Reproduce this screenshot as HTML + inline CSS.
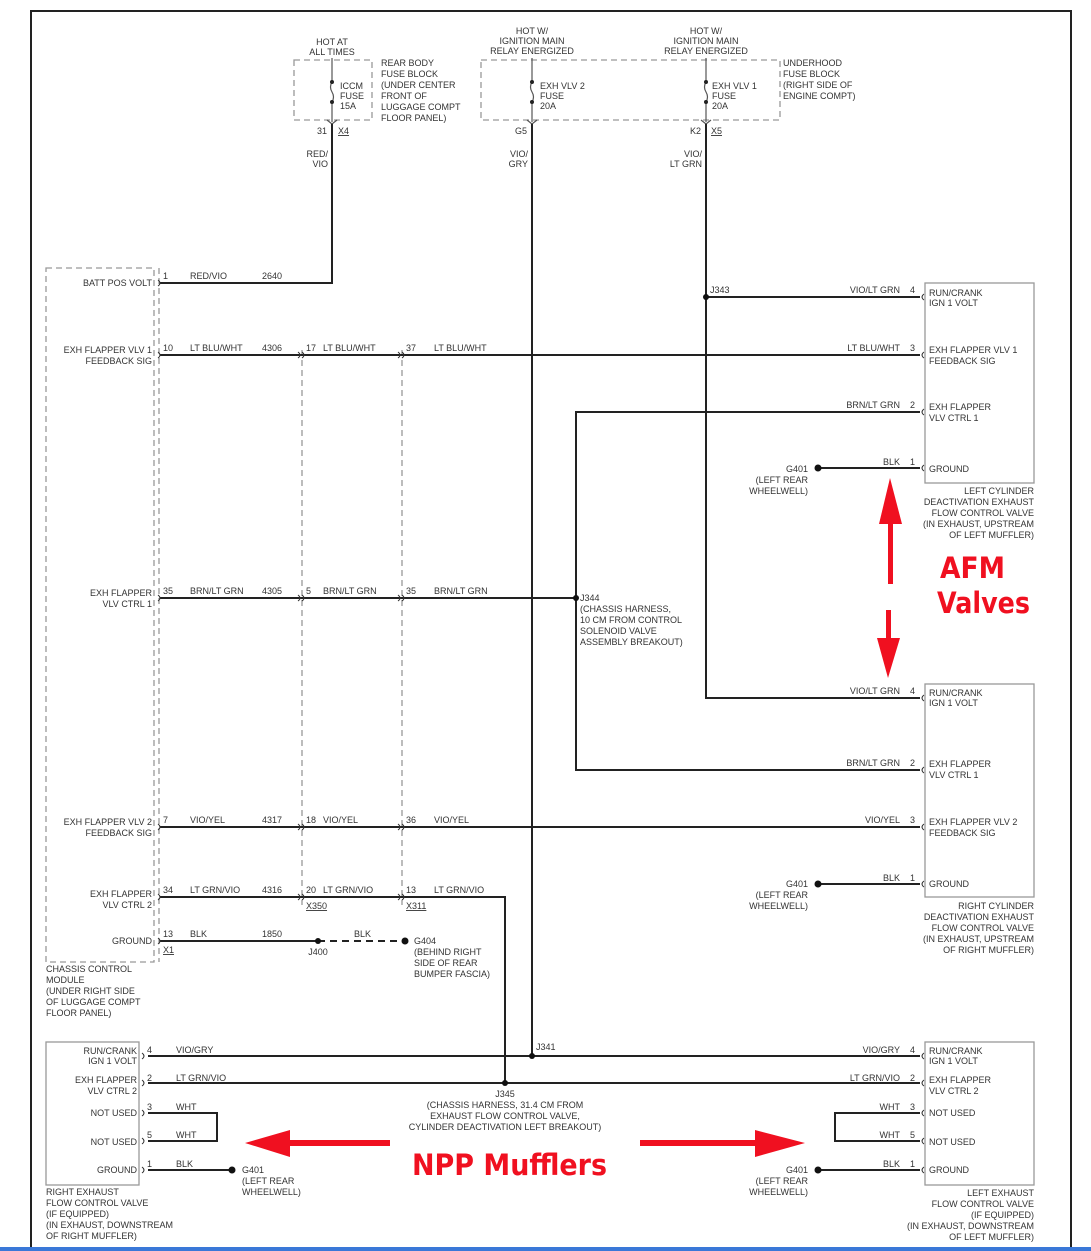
<!DOCTYPE html>
<html><head><meta charset="utf-8"><style>
html,body{margin:0;padding:0;background:#fff;}
svg{display:block;}
text{font-family:"Liberation Sans",sans-serif;font-size:9px;fill:#333;}
.r{text-anchor:end;}
.m{text-anchor:middle;}
.w{stroke:#222;stroke-width:2;fill:none;}
.d{stroke:#999;stroke-width:1.3;fill:none;stroke-dasharray:6,4;}
.b{stroke:#999;stroke-width:1.3;fill:#fff;}
.big{font-family:"DejaVu Sans",sans-serif;font-size:29px;font-weight:bold;fill:#f01020;font-style:normal;}
</style></head><body>
<svg width="1091" height="1251" viewBox="0 0 1091 1251" xmlns="http://www.w3.org/2000/svg">
<rect x="31" y="11" width="1040" height="1240" fill="none" stroke="#222" stroke-width="2"/>
<rect x="0" y="1247" width="1091" height="4" fill="#3a78d8"/>

<rect x="294" y="60" width="78" height="60" class="d"/>
<rect x="481" y="60" width="299" height="60" class="d"/>
<text x="332" y="45" class="m">HOT AT</text><text x="332" y="55" class="m">ALL TIMES</text>
<text x="532" y="34" class="m">HOT W/</text><text x="532" y="44" class="m">IGNITION MAIN</text><text x="532" y="54" class="m">RELAY ENERGIZED</text>
<text x="706" y="34" class="m">HOT W/</text><text x="706" y="44" class="m">IGNITION MAIN</text><text x="706" y="54" class="m">RELAY ENERGIZED</text>
<text x="381" y="66">REAR BODY</text><text x="381" y="77">FUSE BLOCK</text><text x="381" y="88">(UNDER CENTER</text><text x="381" y="99">FRONT OF</text><text x="381" y="110">LUGGAGE COMPT</text><text x="381" y="121">FLOOR PANEL)</text>
<text x="783" y="66">UNDERHOOD</text><text x="783" y="77">FUSE BLOCK</text><text x="783" y="88">(RIGHT SIDE OF</text><text x="783" y="99">ENGINE COMPT)</text>
<g stroke="#555" stroke-width="1.2" fill="none">
<line x1="332" y1="58" x2="332" y2="82"/><line x1="332" y1="102" x2="332" y2="122"/><path d="M332 82 q-3 5 0 10 q3 5 0 10"/>
<line x1="532" y1="58" x2="532" y2="82"/><line x1="532" y1="102" x2="532" y2="122"/><path d="M532 82 q-3 5 0 10 q3 5 0 10"/>
<line x1="706" y1="58" x2="706" y2="82"/><line x1="706" y1="102" x2="706" y2="122"/><path d="M706 82 q-3 5 0 10 q3 5 0 10"/>
<path d="M327 120 l5 4 l5 -4 M527 120 l5 4 l5 -4 M701 120 l5 4 l5 -4"/>
</g>
<g fill="#222"><circle cx="332" cy="82" r="2"/><circle cx="332" cy="102" r="2"/><circle cx="532" cy="82" r="2"/><circle cx="532" cy="102" r="2"/><circle cx="706" cy="82" r="2"/><circle cx="706" cy="102" r="2"/></g>
<text x="340" y="89">ICCM</text><text x="340" y="99">FUSE</text><text x="340" y="109">15A</text>
<text x="540" y="89">EXH VLV 2</text><text x="540" y="99">FUSE</text><text x="540" y="109">20A</text>
<text x="712" y="89">EXH VLV 1</text><text x="712" y="99">FUSE</text><text x="712" y="109">20A</text>
<text x="327" y="134" class="r">31</text><text x="338" y="134" text-decoration="underline">X4</text>
<text x="527" y="134" class="r">G5</text>
<text x="701" y="134" class="r">K2</text><text x="711" y="134" text-decoration="underline">X5</text>
<text x="328" y="157" class="r">RED/</text><text x="328" y="167" class="r">VIO</text>
<text x="528" y="157" class="r">VIO/</text><text x="528" y="167" class="r">GRY</text>
<text x="702" y="157" class="r">VIO/</text><text x="702" y="167" class="r">LT GRN</text>

<rect x="46" y="268" width="108" height="694" class="d"/>
<line x1="159" y1="268" x2="159" y2="962" class="d"/>
<line x1="302" y1="350" x2="302" y2="905" class="d"/>
<line x1="402" y1="350" x2="402" y2="905" class="d"/>
<text x="152" y="286" class="r">BATT POS VOLT</text>
<text x="152" y="353" class="r">EXH FLAPPER VLV 1</text><text x="152" y="364" class="r">FEEDBACK SIG</text>
<text x="152" y="596" class="r">EXH FLAPPER</text><text x="152" y="607" class="r">VLV CTRL 1</text>
<text x="152" y="825" class="r">EXH FLAPPER VLV 2</text><text x="152" y="836" class="r">FEEDBACK SIG</text>
<text x="152" y="897" class="r">EXH FLAPPER</text><text x="152" y="908" class="r">VLV CTRL 2</text>
<text x="152" y="944" class="r">GROUND</text>
<text x="46" y="972">CHASSIS CONTROL</text><text x="46" y="983">MODULE</text><text x="46" y="994">(UNDER RIGHT SIDE</text><text x="46" y="1005">OF LUGGAGE COMPT</text><text x="46" y="1016">FLOOR PANEL)</text>

<path class="w" d="M332 124 V283 H160"/>
<path class="w" d="M532 124 V1056"/>
<path class="w" d="M706 124 V698 H920"/>
<path class="w" d="M706 297 H920"/>
<path class="w" d="M160 355 H920"/>
<path class="w" d="M920 412 H576 V770 H920"/>
<path class="w" d="M160 598 H576"/>
<path class="w" d="M820 468 H920"/>
<path class="w" d="M160 827 H920"/>
<path class="w" d="M820 884 H920"/>
<path class="w" d="M160 897 H505 V1083"/>
<path class="w" d="M160 941 H318"/>
<path d="M318 941 H405" stroke="#222" stroke-width="2" stroke-dasharray="7,5"/>
<path class="w" d="M148 1056 H920"/>
<path class="w" d="M148 1083 H920"/>
<path class="w" d="M148 1113 H217 V1141 H148"/>
<path class="w" d="M920 1113 H835 V1141 H920"/>
<path class="w" d="M148 1170 H232"/>
<path class="w" d="M820 1170 H920"/>
<g fill="#111">
<circle cx="706" cy="297" r="3"/><circle cx="576" cy="598" r="3"/><circle cx="318" cy="941" r="3"/>
<circle cx="405" cy="941" r="3.5"/><circle cx="818" cy="468" r="3.5"/><circle cx="818" cy="884" r="3.5"/>
<circle cx="532" cy="1056" r="3"/><circle cx="505" cy="1083" r="3"/><circle cx="232" cy="1170" r="3.5"/><circle cx="818" cy="1170" r="3.5"/>
</g>
<g stroke="#333" stroke-width="1" fill="none">
<path d="M158 280 q4 3 0 6 M158 352 q4 3 0 6 M158 595 q4 3 0 6 M158 824 q4 3 0 6 M158 894 q4 3 0 6 M158 938 q4 3 0 6"/>
<path d="M298 352 q4 3 0 6 M302 352 q4 3 0 6 M398 352 q4 3 0 6 M402 352 q4 3 0 6"/>
<path d="M298 595 q4 3 0 6 M302 595 q4 3 0 6 M398 595 q4 3 0 6 M402 595 q4 3 0 6"/>
<path d="M298 824 q4 3 0 6 M302 824 q4 3 0 6 M398 824 q4 3 0 6 M402 824 q4 3 0 6"/>
<path d="M298 894 q4 3 0 6 M302 894 q4 3 0 6 M398 894 q4 3 0 6 M402 894 q4 3 0 6"/>
<path d="M924 294 q-4 3 0 6 M924 352 q-4 3 0 6 M924 409 q-4 3 0 6 M924 465 q-4 3 0 6 M924 695 q-4 3 0 6 M924 767 q-4 3 0 6 M924 824 q-4 3 0 6 M924 881 q-4 3 0 6"/>
<path d="M924 1053 q-4 3 0 6 M924 1080 q-4 3 0 6 M924 1110 q-4 3 0 6 M924 1138 q-4 3 0 6 M924 1167 q-4 3 0 6"/>
<path d="M142 1053 q4 3 0 6 M142 1080 q4 3 0 6 M142 1110 q4 3 0 6 M142 1138 q4 3 0 6 M142 1167 q4 3 0 6"/>
</g>

<text x="163" y="279">1</text><text x="190" y="279">RED/VIO</text><text x="262" y="279">2640</text>
<text x="163" y="351">10</text><text x="190" y="351">LT BLU/WHT</text><text x="262" y="351">4306</text>
<text x="306" y="351">17</text><text x="323" y="351">LT BLU/WHT</text><text x="406" y="351">37</text><text x="434" y="351">LT BLU/WHT</text>
<text x="163" y="594">35</text><text x="190" y="594">BRN/LT GRN</text><text x="262" y="594">4305</text>
<text x="306" y="594">5</text><text x="323" y="594">BRN/LT GRN</text><text x="406" y="594">35</text><text x="434" y="594">BRN/LT GRN</text>
<text x="163" y="823">7</text><text x="190" y="823">VIO/YEL</text><text x="262" y="823">4317</text>
<text x="306" y="823">18</text><text x="323" y="823">VIO/YEL</text><text x="406" y="823">36</text><text x="434" y="823">VIO/YEL</text>
<text x="163" y="893">34</text><text x="190" y="893">LT GRN/VIO</text><text x="262" y="893">4316</text>
<text x="306" y="893">20</text><text x="323" y="893">LT GRN/VIO</text><text x="406" y="893">13</text><text x="434" y="893">LT GRN/VIO</text>
<text x="306" y="909" text-decoration="underline">X350</text><text x="406" y="909" text-decoration="underline">X311</text>
<text x="163" y="937">13</text><text x="190" y="937">BLK</text><text x="262" y="937">1850</text><text x="354" y="937">BLK</text>
<text x="163" y="953" text-decoration="underline">X1</text><text x="318" y="955" class="m">J400</text>
<text x="414" y="944">G404</text><text x="414" y="955">(BEHIND RIGHT</text><text x="414" y="966">SIDE OF REAR</text><text x="414" y="977">BUMPER FASCIA)</text>
<text x="710" y="293">J343</text>
<text x="580" y="601">J344</text><text x="580" y="612">(CHASSIS HARNESS,</text><text x="580" y="623">10 CM FROM CONTROL</text><text x="580" y="634">SOLENOID VALVE</text><text x="580" y="645">ASSEMBLY BREAKOUT)</text>

<rect x="925" y="283" width="109" height="200" class="b"/>
<text x="900" y="293" class="r">VIO/LT GRN</text><text x="915" y="293" class="r">4</text>
<text x="900" y="351" class="r">LT BLU/WHT</text><text x="915" y="351" class="r">3</text>
<text x="900" y="408" class="r">BRN/LT GRN</text><text x="915" y="408" class="r">2</text>
<text x="900" y="465" class="r">BLK</text><text x="915" y="465" class="r">1</text>
<text x="929" y="296">RUN/CRANK</text><text x="929" y="306">IGN 1 VOLT</text>
<text x="929" y="353">EXH FLAPPER VLV 1</text><text x="929" y="364">FEEDBACK SIG</text>
<text x="929" y="410">EXH FLAPPER</text><text x="929" y="421">VLV CTRL 1</text>
<text x="929" y="472">GROUND</text>
<text x="808" y="472" class="r">G401</text><text x="808" y="483" class="r">(LEFT REAR</text><text x="808" y="494" class="r">WHEELWELL)</text>
<text x="1034" y="494" class="r">LEFT CYLINDER</text><text x="1034" y="505" class="r">DEACTIVATION EXHAUST</text><text x="1034" y="516" class="r">FLOW CONTROL VALVE</text><text x="1034" y="527" class="r">(IN EXHAUST, UPSTREAM</text><text x="1034" y="538" class="r">OF LEFT MUFFLER)</text>

<rect x="925" y="684" width="109" height="213" class="b"/>
<text x="900" y="694" class="r">VIO/LT GRN</text><text x="915" y="694" class="r">4</text>
<text x="900" y="766" class="r">BRN/LT GRN</text><text x="915" y="766" class="r">2</text>
<text x="900" y="823" class="r">VIO/YEL</text><text x="915" y="823" class="r">3</text>
<text x="900" y="881" class="r">BLK</text><text x="915" y="881" class="r">1</text>
<text x="929" y="696">RUN/CRANK</text><text x="929" y="706">IGN 1 VOLT</text>
<text x="929" y="767">EXH FLAPPER</text><text x="929" y="778">VLV CTRL 1</text>
<text x="929" y="825">EXH FLAPPER VLV 2</text><text x="929" y="836">FEEDBACK SIG</text>
<text x="929" y="887">GROUND</text>
<text x="808" y="887" class="r">G401</text><text x="808" y="898" class="r">(LEFT REAR</text><text x="808" y="909" class="r">WHEELWELL)</text>
<text x="1034" y="909" class="r">RIGHT CYLINDER</text><text x="1034" y="920" class="r">DEACTIVATION EXHAUST</text><text x="1034" y="931" class="r">FLOW CONTROL VALVE</text><text x="1034" y="942" class="r">(IN EXHAUST, UPSTREAM</text><text x="1034" y="953" class="r">OF RIGHT MUFFLER)</text>

<rect x="46" y="1042" width="93" height="143" class="b"/>
<text x="137" y="1054" class="r">RUN/CRANK</text><text x="137" y="1064" class="r">IGN 1 VOLT</text>
<text x="137" y="1083" class="r">EXH FLAPPER</text><text x="137" y="1094" class="r">VLV CTRL 2</text>
<text x="137" y="1116" class="r">NOT USED</text><text x="137" y="1145" class="r">NOT USED</text><text x="137" y="1173" class="r">GROUND</text>
<text x="147" y="1053">4</text><text x="176" y="1053">VIO/GRY</text>
<text x="147" y="1081">2</text><text x="176" y="1081">LT GRN/VIO</text>
<text x="147" y="1110">3</text><text x="176" y="1110">WHT</text>
<text x="147" y="1138">5</text><text x="176" y="1138">WHT</text>
<text x="147" y="1167">1</text><text x="176" y="1167">BLK</text>
<text x="242" y="1173">G401</text><text x="242" y="1184">(LEFT REAR</text><text x="242" y="1195">WHEELWELL)</text>
<text x="46" y="1195">RIGHT EXHAUST</text><text x="46" y="1206">FLOW CONTROL VALVE</text><text x="46" y="1217">(IF EQUIPPED)</text><text x="46" y="1228">(IN EXHAUST, DOWNSTREAM</text><text x="46" y="1239">OF RIGHT MUFFLER)</text>
<text x="536" y="1050">J341</text>
<text x="505" y="1097" class="m">J345</text><text x="505" y="1108" class="m">(CHASSIS HARNESS, 31.4 CM FROM</text><text x="505" y="1119" class="m">EXHAUST FLOW CONTROL VALVE,</text><text x="505" y="1130" class="m">CYLINDER DEACTIVATION LEFT BREAKOUT)</text>

<rect x="925" y="1042" width="109" height="143" class="b"/>
<text x="900" y="1053" class="r">VIO/GRY</text><text x="915" y="1053" class="r">4</text>
<text x="900" y="1081" class="r">LT GRN/VIO</text><text x="915" y="1081" class="r">2</text>
<text x="900" y="1110" class="r">WHT</text><text x="915" y="1110" class="r">3</text>
<text x="900" y="1138" class="r">WHT</text><text x="915" y="1138" class="r">5</text>
<text x="900" y="1167" class="r">BLK</text><text x="915" y="1167" class="r">1</text>
<text x="929" y="1054">RUN/CRANK</text><text x="929" y="1064">IGN 1 VOLT</text>
<text x="929" y="1083">EXH FLAPPER</text><text x="929" y="1094">VLV CTRL 2</text>
<text x="929" y="1116">NOT USED</text><text x="929" y="1145">NOT USED</text><text x="929" y="1173">GROUND</text>
<text x="808" y="1173" class="r">G401</text><text x="808" y="1184" class="r">(LEFT REAR</text><text x="808" y="1195" class="r">WHEELWELL)</text>
<text x="1034" y="1196" class="r">LEFT EXHAUST</text><text x="1034" y="1207" class="r">FLOW CONTROL VALVE</text><text x="1034" y="1218" class="r">(IF EQUIPPED)</text><text x="1034" y="1229" class="r">(IN EXHAUST, DOWNSTREAM</text><text x="1034" y="1240" class="r">OF LEFT MUFFLER)</text>

<g fill="#f01020" stroke="none">
<rect x="888" y="520" width="5" height="64"/>
<polygon points="879,524 902,524 890,478"/>
<rect x="886" y="610" width="5" height="32"/>
<polygon points="877,638 900,638 888,678"/>
<rect x="290" y="1140" width="100" height="6"/>
<polygon points="290,1130 290,1157 245,1143"/>
<rect x="640" y="1140" width="115" height="6"/>
<polygon points="755,1130 755,1157 805,1143"/>
</g>
<text x="940" y="578" class="big" textLength="65" lengthAdjust="spacingAndGlyphs">AFM</text>
<text x="937" y="613" class="big" textLength="93" lengthAdjust="spacingAndGlyphs">Valves</text>
<text x="412" y="1175" class="big" textLength="195" lengthAdjust="spacingAndGlyphs">NPP Mufflers</text>
</svg>
</body></html>
